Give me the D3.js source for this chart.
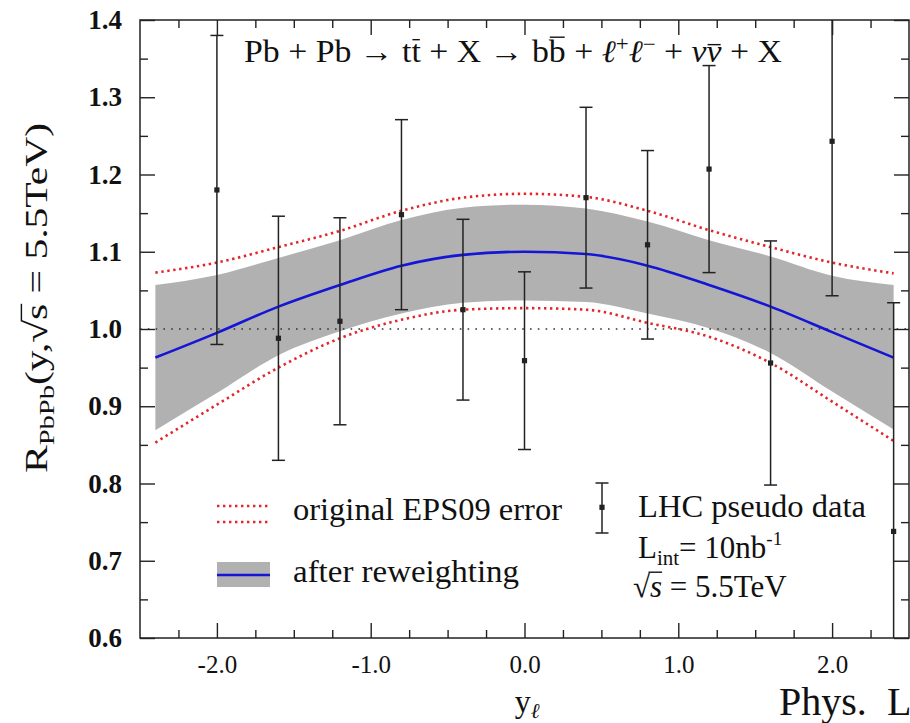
<!DOCTYPE html>
<html>
<head>
<meta charset="utf-8">
<script src="https://cdn.jsdelivr.net/npm/d3@7/dist/d3.min.js"></script>
<style>
  html, body { margin: 0; padding: 0; background: #fff; }
  svg { display: block; }
  text { font-family: "Liberation Serif", "Times New Roman", serif; fill: #111; }
</style>
</head>
<body>
<svg id="chart" width="910" height="723"></svg>
<script>
// Rapidity grid on which the theory curves are given
const curveX = [-2.4, -2.0, -1.6, -1.2, -0.8, -0.4, 0.0, 0.4, 0.8, 1.2, 1.6, 2.0, 2.4];
// Central value after reweighting
const centralY = [0.963, 0.995, 1.029, 1.057, 1.082, 1.096, 1.100, 1.097, 1.082, 1.057, 1.029, 0.996, 0.963];
// Uncertainty band after reweighting
const bandHigh = [1.057, 1.070, 1.092, 1.115, 1.141, 1.157, 1.161, 1.156, 1.139, 1.115, 1.094, 1.069, 1.057];
const bandLow  = [0.869, 0.917, 0.966, 0.997, 1.020, 1.034, 1.037, 1.035, 1.020, 1.001, 0.969, 0.919, 0.870];
// Original EPS09 error envelope
const epsHigh = [1.073, 1.086, 1.106, 1.127, 1.153, 1.170, 1.175, 1.171, 1.153, 1.128, 1.106, 1.086, 1.072];
const epsLow  = [0.853, 0.902, 0.950, 0.988, 1.012, 1.025, 1.027, 1.025, 1.008, 0.990, 0.956, 0.906, 0.855];

// LHC pseudo data
const dataX   = [-2.0, -1.6, -1.2, -0.8, -0.4, 0.0, 0.4, 0.8, 1.2, 1.6, 2.0, 2.4];
const dataY   = [1.180, 0.988, 1.010, 1.148, 1.025, 0.959, 1.170, 1.109, 1.207, 0.956, 1.243, 0.738];
const dataErr = [0.200, 0.158, 0.134, 0.123, 0.117, 0.115, 0.117, 0.122, 0.134, 0.158, 0.200, 0.296];

// Axis ticks
const xMajorTicks = [-2.0, -1.0, 0.0, 1.0, 2.0];
const xMinorTicks = [-2.25, -1.75, -1.5, -1.25, -0.75, -0.5, -0.25, 0.25, 0.5, 0.75, 1.25, 1.5, 1.75, 2.25];
const yMajorTicks = [0.6, 0.7, 0.8, 0.9, 1.0, 1.1, 1.2, 1.3, 1.4];
const yMinorTicks = [0.65, 0.75, 0.85, 0.95, 1.05, 1.15, 1.25, 1.35];

const svg = d3.select("#chart");
const L = 140, R = 909, T = 20, B = 638;
const x = d3.scaleLinear().domain([-2.5, 2.5]).range([L, R]);
const y = d3.scaleLinear().domain([0.6, 1.4]).range([B, T]);

const RED = "#e3262b", BLUE = "#1515d6", GREY = "#b1b1b1", INK = "#222";

svg.append("defs").append("clipPath").attr("id", "plotclip")
  .append("rect").attr("x", L).attr("y", T).attr("width", R - L).attr("height", B - T);

const plot = svg.append("g").attr("clip-path", "url(#plotclip)");

const band = curveX.map((v, i) => ({ x: v, lo: bandLow[i], hi: bandHigh[i] }));
plot.append("path")
  .datum(band)
  .attr("fill", GREY)
  .attr("d", d3.area().x(d => x(d.x)).y0(d => y(d.lo)).y1(d => y(d.hi)).curve(d3.curveMonotoneX));

// Reference line at R = 1
plot.append("line")
  .attr("x1", L).attr("x2", R).attr("y1", y(1.0)).attr("y2", y(1.0))
  .attr("stroke", "#333").attr("stroke-width", 1.6).attr("stroke-dasharray", "1.6 6.2");

const line = d3.line().x(d => x(d[0])).y(d => y(d[1])).curve(d3.curveMonotoneX);
[epsHigh, epsLow].forEach(arr => {
  plot.append("path")
    .datum(curveX.map((v, i) => [v, arr[i]]))
    .attr("fill", "none").attr("stroke", RED).attr("stroke-width", 2.6)
    .attr("stroke-dasharray", "2.4 3.6")
    .attr("d", line);
});

plot.append("path")
  .datum(curveX.map((v, i) => [v, centralY[i]]))
  .attr("fill", "none").attr("stroke", BLUE).attr("stroke-width", 2.6)
  .attr("d", line);

// Pseudo-data error bars
const pts = dataX.map((v, i) => ({ x: v, y: dataY[i], e: dataErr[i] }));
const eb = plot.append("g").attr("stroke", INK).attr("stroke-width", 1.5);
pts.forEach(p => {
  const cx = x(p.x);
  eb.append("line").attr("x1", cx).attr("x2", cx).attr("y1", y(p.y - p.e)).attr("y2", y(p.y + p.e));
  [p.y - p.e, p.y + p.e].forEach(v => {
    eb.append("line").attr("x1", cx - 6.5).attr("x2", cx + 6.5).attr("y1", y(v)).attr("y2", y(v));
  });
  plot.append("rect").attr("x", cx - 2.6).attr("y", y(p.y) - 2.6).attr("width", 5.2).attr("height", 5.2)
    .attr("fill", INK);
});

// Frame with inward ticks on all four sides
svg.append("rect").attr("x", L).attr("y", T).attr("width", R - L).attr("height", B - T)
  .attr("fill", "none").attr("stroke", INK).attr("stroke-width", 1.5);

function styleAxis(g) {
  g.select(".domain").remove();
  g.selectAll(".tick line").attr("stroke", INK).attr("stroke-width", 1.4);
}

const xBottom = svg.append("g").attr("transform", `translate(0,${B})`)
  .call(d3.axisBottom(x).tickValues(xMajorTicks).tickSize(-15).tickPadding(17)
    .tickFormat(d => d3.format(".1f")(d).replace("\u2212", "-")));
xBottom.call(styleAxis);
xBottom.selectAll("text").attr("font-size", 25).attr("font-family", "Liberation Serif").attr("fill", "#111");
svg.append("g").attr("transform", `translate(0,${B})`)
  .call(d3.axisBottom(x).tickValues(xMinorTicks).tickSize(-8).tickFormat("")).call(styleAxis);
svg.append("g").attr("transform", `translate(0,${T})`)
  .call(d3.axisTop(x).tickValues(xMajorTicks).tickSize(-15).tickFormat("")).call(styleAxis);
svg.append("g").attr("transform", `translate(0,${T})`)
  .call(d3.axisTop(x).tickValues(xMinorTicks).tickSize(-8).tickFormat("")).call(styleAxis);

const yLeft = svg.append("g").attr("transform", `translate(${L},0)`)
  .call(d3.axisLeft(y).tickValues(yMajorTicks).tickSize(-15).tickPadding(18).tickFormat(d3.format(".1f")));
yLeft.call(styleAxis);
yLeft.selectAll("text").attr("font-size", 27).attr("font-weight", "bold")
  .attr("font-family", "Liberation Serif").attr("fill", "#111");
svg.append("g").attr("transform", `translate(${L},0)`)
  .call(d3.axisLeft(y).tickValues(yMinorTicks).tickSize(-8).tickFormat("")).call(styleAxis);
svg.append("g").attr("transform", `translate(${R},0)`)
  .call(d3.axisRight(y).tickValues(yMajorTicks).tickSize(-15).tickFormat("")).call(styleAxis);
svg.append("g").attr("transform", `translate(${R},0)`)
  .call(d3.axisRight(y).tickValues(yMinorTicks).tickSize(-8).tickFormat("")).call(styleAxis);

// Draws a bar over the glyphs of a tspan (anti-particles, square-root vinculum)
function overbar(g, tspan, lift, fontSize, startNode) {
  const node = tspan.node();
  const n = node.getNumberOfChars();
  const s = startNode ? startNode.node().getEndPositionOfChar(startNode.node().getNumberOfChars() - 1)
                      : node.getStartPositionOfChar(0);
  const e = node.getEndPositionOfChar(n - 1);
  const yy = s.y - lift * fontSize;
  g.append("line")
    .attr("x1", s.x + (startNode ? -1.5 : 1)).attr("x2", e.x - (startNode ? 0 : 1))
    .attr("y1", yy).attr("y2", yy)
    .attr("stroke", "#111").attr("stroke-width", Math.max(1.1, fontSize * 0.045));
}

// Process label
const titleG = svg.append("g");
const tf = 31;
const title = titleG.append("text").attr("x", 513).attr("y", 62).attr("text-anchor", "middle")
  .attr("font-size", tf).attr("textLength", 538).attr("lengthAdjust", "spacingAndGlyphs");
title.append("tspan").text("Pb + Pb \u2192 t");
const tBar = title.append("tspan").text("t");
title.append("tspan").text(" + X \u2192 b");
const bBar = title.append("tspan").text("b");
title.append("tspan").text(" + ");
title.append("tspan").attr("font-style", "italic").text("\u2113");
title.append("tspan").attr("dy", -11).attr("font-size", 21).text("+");
title.append("tspan").attr("dy", 11).attr("font-style", "italic").text("\u2113");
title.append("tspan").attr("dy", -11).attr("font-size", 21).text("\u2212");
title.append("tspan").attr("dy", 11).text(" + ");
title.append("tspan").attr("font-style", "italic").text("\u03bd");
const nuBar = title.append("tspan").attr("font-style", "italic").text("\u03bd");
title.append("tspan").text(" + X");
overbar(titleG, tBar, 0.72, tf);
overbar(titleG, bBar, 0.80, tf);
overbar(titleG, nuBar, 0.56, tf);

// Axis titles
const yf = 32;
const ytG = svg.append("g").attr("transform", "translate(47,298) rotate(-90)");
const yt = ytG.append("text").attr("x", 0).attr("y", 0)
  .attr("text-anchor", "middle").attr("font-size", yf).attr("font-weight", 400)
  .attr("textLength", 350).attr("lengthAdjust", "spacingAndGlyphs");
yt.append("tspan").text("R");
yt.append("tspan").attr("dy", 7).attr("font-size", 22).text("PbPb");
yt.append("tspan").attr("dy", -7).text("(y,");
const ytRoot = yt.append("tspan").text("\u221a");
const ytS = yt.append("tspan").text("s");
yt.append("tspan").text(" = 5.5TeV)");
overbar(ytG, ytS, 0.80, yf, ytRoot);

const xt = svg.append("text").attr("x", 527).attr("y", 712).attr("text-anchor", "middle").attr("font-size", 32);
xt.append("tspan").text("y");
xt.append("tspan").attr("dy", 6).attr("font-size", 21).attr("font-style", "italic").text("\u2113");

// Legend
const legFont = 31;
[506, 522].forEach(ly => {
  svg.append("line").attr("x1", 217).attr("x2", 270).attr("y1", ly).attr("y2", ly)
    .attr("stroke", RED).attr("stroke-width", 2.6).attr("stroke-dasharray", "2.4 3.6");
});
svg.append("text").attr("x", 293).attr("y", 520).attr("font-size", legFont)
  .attr("textLength", 269).attr("lengthAdjust", "spacingAndGlyphs").text("original EPS09 error");
svg.append("rect").attr("x", 217).attr("y", 562).attr("width", 53).attr("height", 25).attr("fill", GREY);
svg.append("line").attr("x1", 217).attr("x2", 270).attr("y1", 575).attr("y2", 575)
  .attr("stroke", BLUE).attr("stroke-width", 2.6);
svg.append("text").attr("x", 293).attr("y", 582).attr("font-size", legFont)
  .attr("textLength", 226).attr("lengthAdjust", "spacingAndGlyphs").text("after reweighting");

const lg = svg.append("g").attr("stroke", INK).attr("stroke-width", 1.5);
lg.append("line").attr("x1", 602).attr("x2", 602).attr("y1", 483).attr("y2", 533);
lg.append("line").attr("x1", 595.5).attr("x2", 608.5).attr("y1", 483).attr("y2", 483);
lg.append("line").attr("x1", 595.5).attr("x2", 608.5).attr("y1", 533).attr("y2", 533);
svg.append("rect").attr("x", 599.4).attr("y", 504.7).attr("width", 5.2).attr("height", 5.2).attr("fill", INK);

svg.append("text").attr("x", 638).attr("y", 517).attr("font-size", legFont)
  .attr("textLength", 228).attr("lengthAdjust", "spacingAndGlyphs").text("LHC pseudo data");
const lint = svg.append("text").attr("x", 638).attr("y", 558).attr("font-size", legFont);
lint.append("tspan").text("L");
lint.append("tspan").attr("dy", 7).attr("font-size", 21).text("int");
lint.append("tspan").attr("dy", -7).text("= 10nb");
lint.append("tspan").attr("dy", -13).attr("font-size", 19).text("-1");
const sqG = svg.append("g");
const sq = sqG.append("text").attr("x", 633).attr("y", 597).attr("font-size", legFont);
const sqRoot = sq.append("tspan").text("\u221a");
const sqS = sq.append("tspan").attr("font-style", "italic").text("s");
sq.append("tspan").text(" = 5.5TeV");
overbar(sqG, sqS, 0.80, legFont, sqRoot);

// Journal reference
svg.append("text").attr("x", 779).attr("y", 715).attr("font-size", 40).text("Phys.");
svg.append("text").attr("x", 887).attr("y", 715).attr("font-size", 40).text("L");
</script>
</body>
</html>
